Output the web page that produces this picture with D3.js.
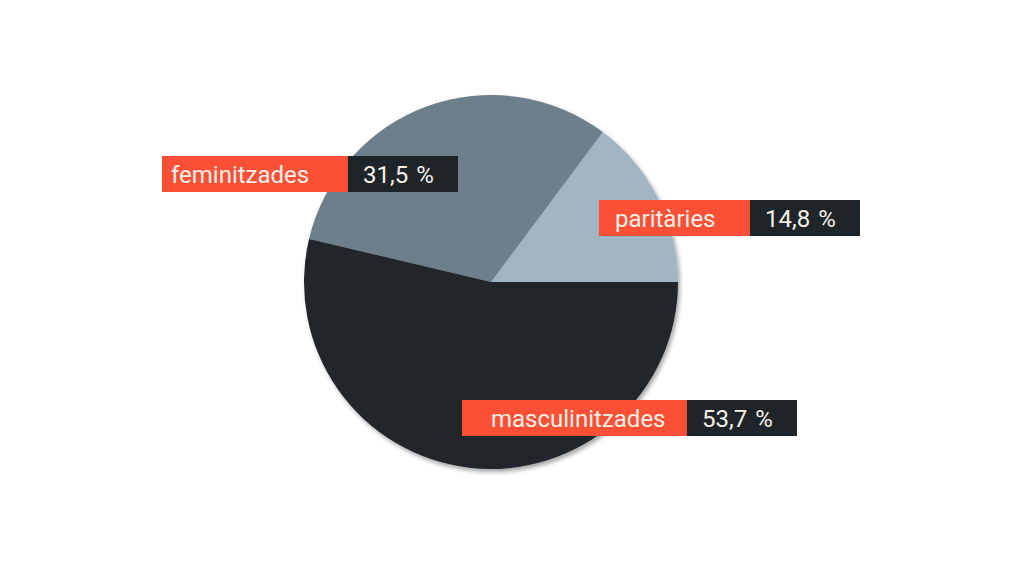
<!DOCTYPE html>
<html>
<head>
<meta charset="utf-8">
<script src="https://cdn.jsdelivr.net/npm/d3@7"></script>
<style>
  body { margin: 0; background: #fff; }
  svg { display: block; }
</style>
</head>
<body>
<div id="chart"></div>
<script>
const categories = ["paritàries", "feminitzades", "masculinitzades"];
const values = [14.8, 31.5, 53.7];
const valueLabels = ["14,8 %", "31,5 %", "53,7 %"];

const sliceColors = ["#a2b5c4", "#6d7f8a", "#21272b"];

// label box placement (left x, top y, width of the red part)
const labelLayout = [
  {x: 599, y: 200, w: 151, pad: 16},
  {x: 162, y: 156, w: 186, pad: 9},
  {x: 462, y: 400, w: 225, pad: 29}
];

const width = 1024, height = 576;
const cx = 491, cy = 282, radius = 187;

const svg = d3.select("#chart").append("svg")
    .attr("width", width)
    .attr("height", height);

const defs = svg.append("defs");
defs.append("filter")
    .attr("id", "shadow")
    .attr("x", "-10%").attr("y", "-10%")
    .attr("width", "120%").attr("height", "120%")
  .append("feDropShadow")
    .attr("dx", 2).attr("dy", 3)
    .attr("stdDeviation", 2)
    .attr("flood-color", "#000")
    .attr("flood-opacity", 0.35);

const data = categories.map((c, i) => ({name: c, value: values[i], label: valueLabels[i]}));

// start at 3 o'clock and run counter-clockwise
const pie = d3.pie()
    .sort(null)
    .value(d => d.value)
    .startAngle(Math.PI / 2)
    .endAngle(Math.PI / 2 - 2 * Math.PI);

const arc = d3.arc().innerRadius(0).outerRadius(radius);

const g = svg.append("g")
    .attr("transform", `translate(${cx},${cy})`)
    .attr("filter", "url(#shadow)");

g.selectAll("path")
    .data(pie(data))
    .enter().append("path")
    .attr("d", arc)
    .attr("fill", (d, i) => sliceColors[i]);

const boxH = 36, darkW = 110;

const labels = svg.append("g").selectAll("g")
    .data(data)
    .enter().append("g")
    .attr("transform", (d, i) => `translate(${labelLayout[i].x},${labelLayout[i].y})`);

labels.append("rect")
    .attr("width", (d, i) => labelLayout[i].w)
    .attr("height", boxH)
    .attr("fill", "#fb5035");

labels.append("rect")
    .attr("x", (d, i) => labelLayout[i].w)
    .attr("width", darkW)
    .attr("height", boxH)
    .attr("fill", "#1e2428");

labels.append("text")
    .attr("x", (d, i) => labelLayout[i].pad)
    .attr("y", boxH / 2)
    .attr("dy", "0.36em")
    .style("font-family", "Roboto, 'Noto Sans', sans-serif")
    .style("font-size", "24px")
    .attr("fill", "#f6f0e8")
    .text(d => d.name);

labels.append("text")
    .attr("x", (d, i) => labelLayout[i].w + 15)
    .attr("y", boxH / 2)
    .attr("dy", "0.36em")
    .style("font-family", "Roboto, 'Noto Sans', sans-serif")
    .style("font-size", "24px")
    .style("word-spacing", "2px")
    .attr("fill", "#f6f0e8")
    .text(d => d.label);
</script>
</body>
</html>
